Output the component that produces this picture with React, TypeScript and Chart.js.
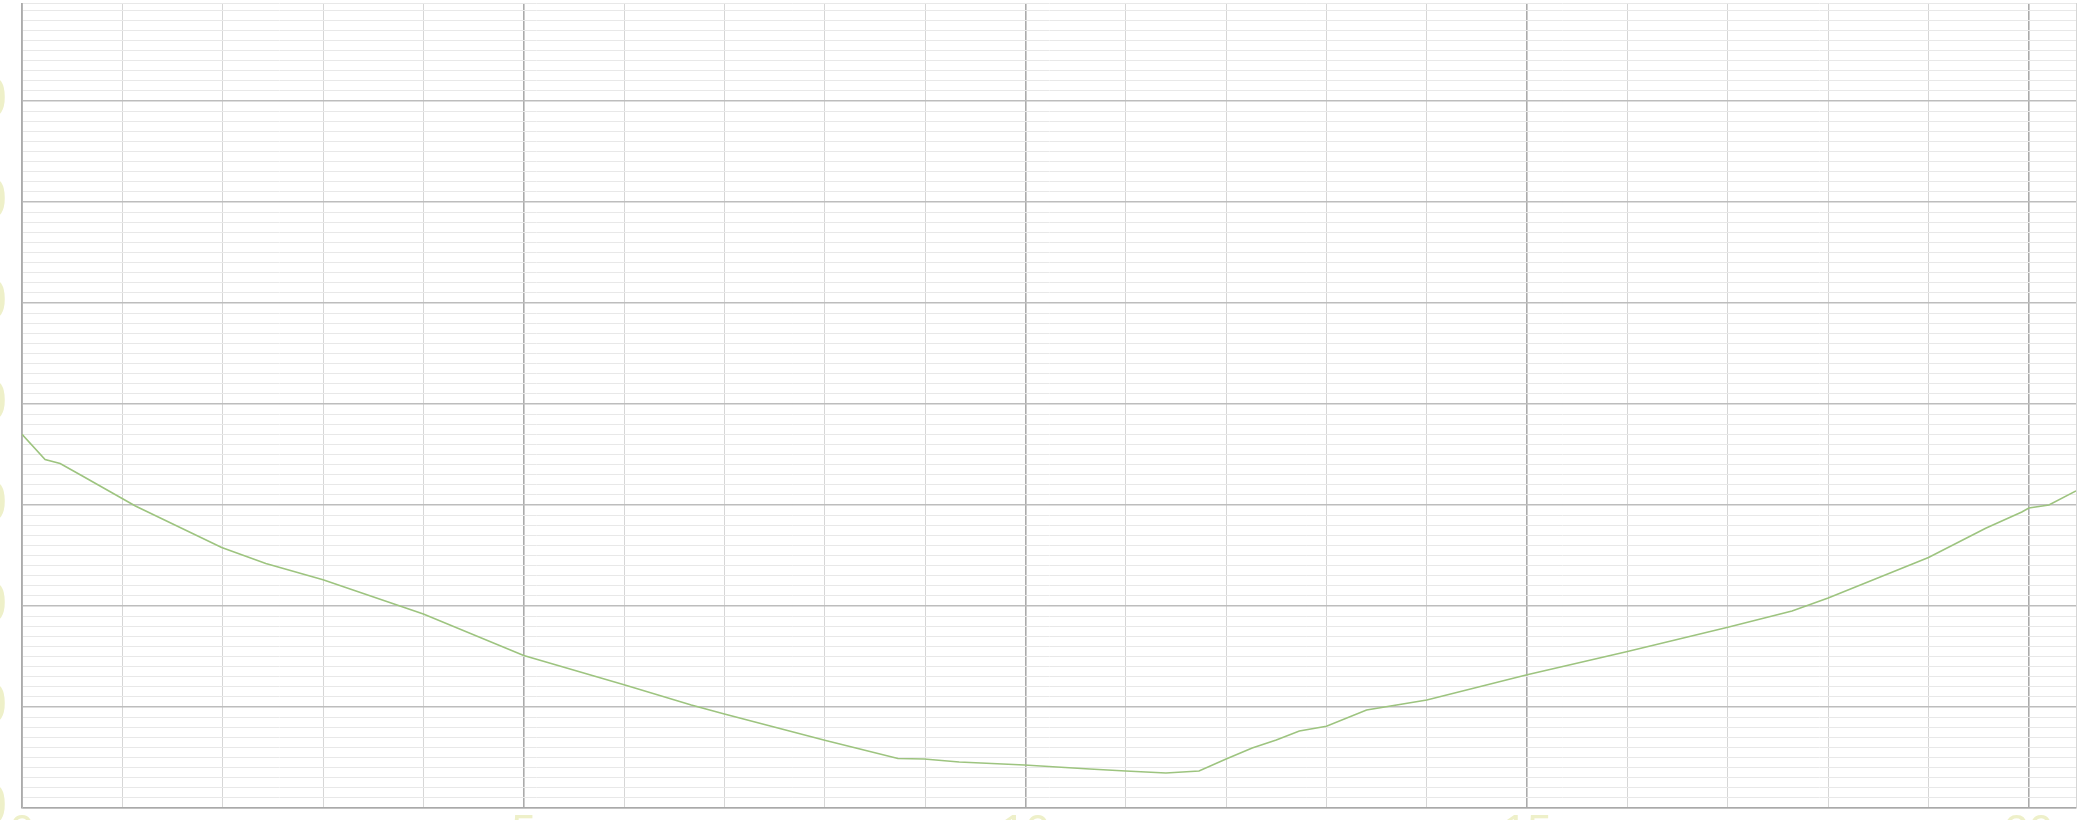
import React, { useEffect, useRef } from 'react';
import { Chart, registerables } from 'chart.js';

Chart.register(...registerables);

// Series (x in grid units, y in grid units)
const xValues = [0, 0.23, 0.38, 0.58, 1.13, 1.99, 2.43, 3.0, 4.0, 5.0, 6.0, 6.67, 7.0, 8.0, 8.73, 8.99, 9.34, 9.99, 10.64, 11.0, 11.4, 11.73, 12.0, 12.26, 12.5, 12.73, 13.0, 13.4, 14.0, 15.0, 16.0, 17.0, 17.64, 18.0, 19.0, 19.57, 19.93, 20.0, 20.2, 20.47];
const yValues = [37.0, 34.5, 34.1, 33.0, 29.9, 25.8, 24.2, 22.6, 19.2, 15.1, 12.2, 10.2, 9.3, 6.7, 4.9, 4.85, 4.55, 4.26, 3.86, 3.66, 3.47, 3.66, 4.85, 5.94, 6.73, 7.62, 8.1, 9.7, 10.7, 13.2, 15.5, 17.9, 19.5, 20.8, 24.8, 27.7, 29.3, 29.7, 30.0, 31.4];

// Tick labels
const yTickLabels = ['0', '10', '20', '30', '40', '50', '60', '70'];
const xTickLabels = ['0', '5', '10', '15', '20'];

const X_MAX = 20.47;
const Y_MAX = 79.7;

const isMult = (v: number, m: number) => Math.abs(v / m - Math.round(v / m)) < 1e-6;

const integerTicks = (max: number) => {
  const t: { value: number }[] = [];
  for (let i = 0; i <= Math.floor(max); i++) t.push({ value: i });
  if (!isMult(max, 1)) t.push({ value: max });
  return t;
};

export default function App() {
  const ref = useRef<HTMLCanvasElement | null>(null);

  useEffect(() => {
    if (!ref.current) return;
    const points = xValues.map((x, i) => ({ x, y: yValues[i] }));
    const chart = new Chart(ref.current, {
      type: 'line',
      data: {
        datasets: [
          {
            data: points,
            borderColor: '#9dc47f',
            borderWidth: 1.6,
            pointRadius: 0,
            tension: 0,
            fill: false,
          },
        ],
      },
      options: {
        animation: false,
        responsive: false,
        maintainAspectRatio: false,
        layout: { padding: { top: 3, right: 6, left: 0, bottom: 0 } },
        plugins: { legend: { display: false }, tooltip: { enabled: false } },
        scales: {
          x: {
            type: 'linear',
            min: 0,
            max: X_MAX,
            afterBuildTicks: (s: any) => {
              s.ticks = integerTicks(X_MAX);
            },
            afterFit: (s: any) => {
              s.height = 12;
              s.paddingLeft = 0;
              s.paddingRight = 0;
            },
            border: { color: '#a9a9a9', width: 1.5 },
            grid: {
              drawTicks: false,
              color: (c: any) => (c.tick && isMult(c.tick.value, 5) ? '#ababab' : '#d6d6d6'),
              lineWidth: (c: any) => (c.tick && isMult(c.tick.value, 5) ? 1.6 : 1),
            },
            ticks: {
              autoSkip: false,
              maxRotation: 0,
              minRotation: 0,
              padding: -1,
              color: '#eef0c9',
              font: { family: 'Liberation Sans', size: 44 },
              callback: (v: any) => {
                const n = Number(v);
                if (!isMult(n, 5)) return '';
                const idx = Math.round(n / 5);
                return xTickLabels[idx] ?? '';
              },
            },
          },
          y: {
            type: 'linear',
            min: 0,
            max: Y_MAX,
            afterBuildTicks: (s: any) => {
              s.ticks = integerTicks(Y_MAX);
            },
            afterFit: (s: any) => {
              s.width = 22;
              s.paddingTop = 0;
              s.paddingBottom = 0;
            },
            border: { color: '#b5b5b5', width: 1 },
            grid: {
              drawTicks: false,
              color: (c: any) => (c.tick && isMult(c.tick.value, 10) ? '#bdbdbd' : '#e8e8e8'),
              lineWidth: (c: any) => (c.tick && isMult(c.tick.value, 10) ? 1.4 : 1),
            },
            ticks: {
              autoSkip: false,
              padding: 15,
              color: '#eef0c9',
              font: { family: 'Liberation Sans', size: 58 },
              callback: (v: any) => {
                const n = Number(v);
                if (!isMult(n, 10)) return '';
                const idx = Math.round(n / 10);
                return yTickLabels[idx] ?? '';
              },
            },
          },
        },
      },
    } as any);
    return () => chart.destroy();
  }, []);

  return (
    <div style={{ position: 'absolute', left: 0, top: 0, width: 2082, height: 820, overflow: 'hidden', background: '#ffffff' }}>
      <canvas ref={ref} width={2082} height={820} style={{ display: 'block', width: 2082, height: 820 }} />
    </div>
  );
}
